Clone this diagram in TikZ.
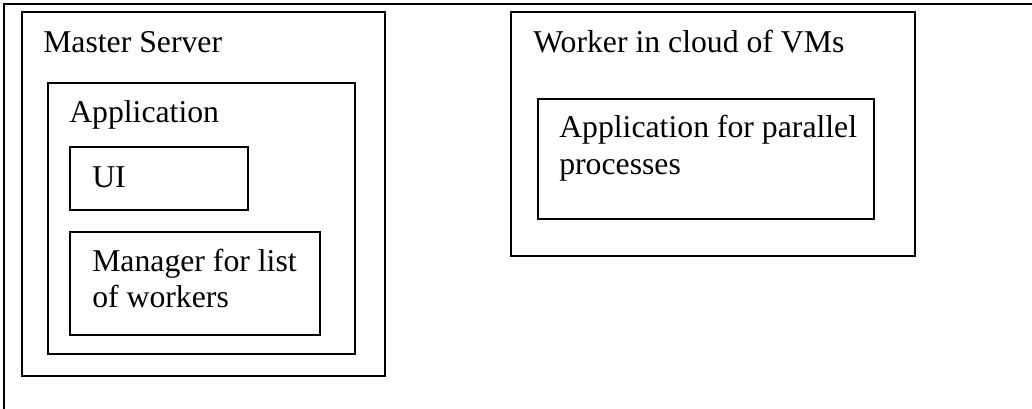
\documentclass[tikz,border=0pt]{standalone}
\usepackage{fontspec}
\setmainfont{Liberation Serif}
\begin{document}
\begin{tikzpicture}[x=0.75pt,y=-0.75pt,
  boxx/.style={draw=black,line width=1.5pt,inner sep=0pt,outer sep=0pt},
  lbl/.style={anchor=base west,inner sep=0pt,font=\fontsize{23.8}{27}\selectfont}]
\useasboundingbox (0,0) rectangle (1032,409);
% outer frame (top and left only)
\coordinate (fbl) at (4,409);
\coordinate (ftl) at (4,4.5);
\coordinate (ftr) at (1032,4.5);
\draw[line width=1.5pt] (fbl) -- (ftl) -- (ftr);
% boxes
\node[boxx,minimum width=272.25pt,minimum height=273pt] (master) at (203.5,194) {};
\node[boxx,minimum width=230.25pt,minimum height=203.25pt] (app) at (201.5,218.5) {};
\node[boxx,minimum width=133.5pt,minimum height=47.25pt] (ui) at (159,178.5) {};
\node[boxx,minimum width=187.5pt,minimum height=77.25pt] (mgr) at (195,283.5) {};
\node[boxx,minimum width=303pt,minimum height=183pt] (worker) at (713,134) {};
\node[boxx,minimum width=252pt,minimum height=90pt] (par) at (706,159) {};
% labels
\node[lbl] (tmaster) at (43,53) {Master Server};
\node[lbl] (tapp) at (69,123) {Application};
\node[lbl] (tui) at (92,188) {UI};
\node[lbl] (tmgr1) at (92,272) {Manager for list};
\node[lbl] (tmgr2) at (92,308) {of workers};
\node[lbl] (tworker) at (533,53) {Worker in cloud of VMs};
\node[lbl] (tpar1) at (559,138) {Application for parallel};
\node[lbl] (tpar2) at (559,175) {processes};
\end{tikzpicture}
\end{document}
